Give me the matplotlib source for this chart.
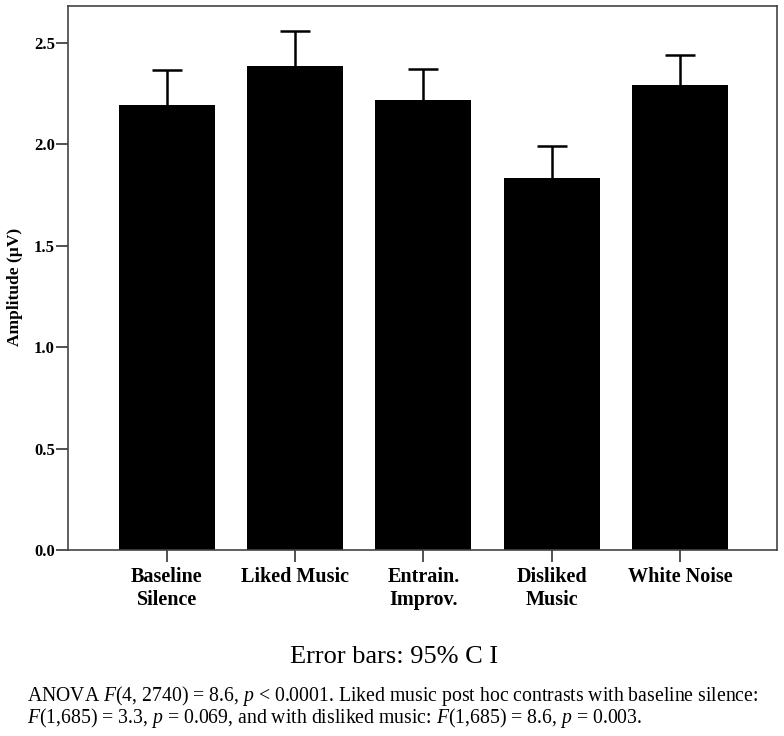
import matplotlib
matplotlib.use("Agg")
import matplotlib.pyplot as plt

# Mean amplitude per condition and 95% CI half-width
conditions = ["Baseline\nSilence", "Liked Music", "Entrain.\nImprov.", "Disliked\nMusic", "White Noise"]
amplitude = [2.19, 2.385, 2.215, 1.835, 2.29]
ci95 = [0.175, 0.17, 0.155, 0.155, 0.15]
yticks = [0.0, 0.5, 1.0, 1.5, 2.0, 2.5]

plt.rcParams["font.family"] = "Liberation Serif"
plt.rcParams["mathtext.fontset"] = "custom"
plt.rcParams["mathtext.rm"] = "Liberation Serif"
plt.rcParams["mathtext.it"] = "Liberation Serif:italic"

fig = plt.figure(figsize=(7.84, 7.36), dpi=100)
ax = fig.add_axes([68 / 784, 1 - 550 / 736, (777 - 68) / 784, 544 / 736])

x = list(range(len(conditions)))
ax.bar(x, amplitude, width=0.75, color="black", zorder=2)
ax.errorbar(x, amplitude, yerr=ci95, fmt="none", ecolor="black",
            elinewidth=1.8, capsize=11, capthick=1.8, zorder=3)

ax.set_xlim(-0.77, 4.757)
ax.set_ylim(0, 2.68)
ax.set_yticks(yticks)
ax.set_yticklabels(["%.1f" % t for t in yticks], fontsize=12, fontweight="bold")
ax.set_xticks(x)
ax.set_xticklabels(conditions, fontsize=14.5, fontweight="bold", linespacing=1.2)
ax.tick_params(axis="both", length=8.5, width=1.2, color="#333333")
ax.tick_params(axis="y", pad=1)
ax.tick_params(axis="x", pad=4)
for s in ax.spines.values():
    s.set_color("#444444")
    s.set_linewidth(1.2)

ax.set_ylabel("Amplitude (\u00b5V)", fontsize=12.5, fontweight="bold")
ax.yaxis.set_label_coords(-0.064, 0.483)

fig.text(394 / 784, 1 - 657 / 736, "Error bars: 95% C I", fontsize=19,
         ha="center", va="center")
fig.text(27 / 784, 1 - 696 / 736,
         "ANOVA $F$(4, 2740) = 8.6, $p$ < 0.0001. Liked music post hoc contrasts with baseline silence:",
         fontsize=14.2, ha="left", va="center")
fig.text(27 / 784, 1 - 718 / 736,
         "$F$(1,685) = 3.3, $p$ = 0.069, and with disliked music: $F$(1,685) = 8.6, $p$ = 0.003.",
         fontsize=14.2, ha="left", va="center")

fig.savefig("out.png", dpi=100)
